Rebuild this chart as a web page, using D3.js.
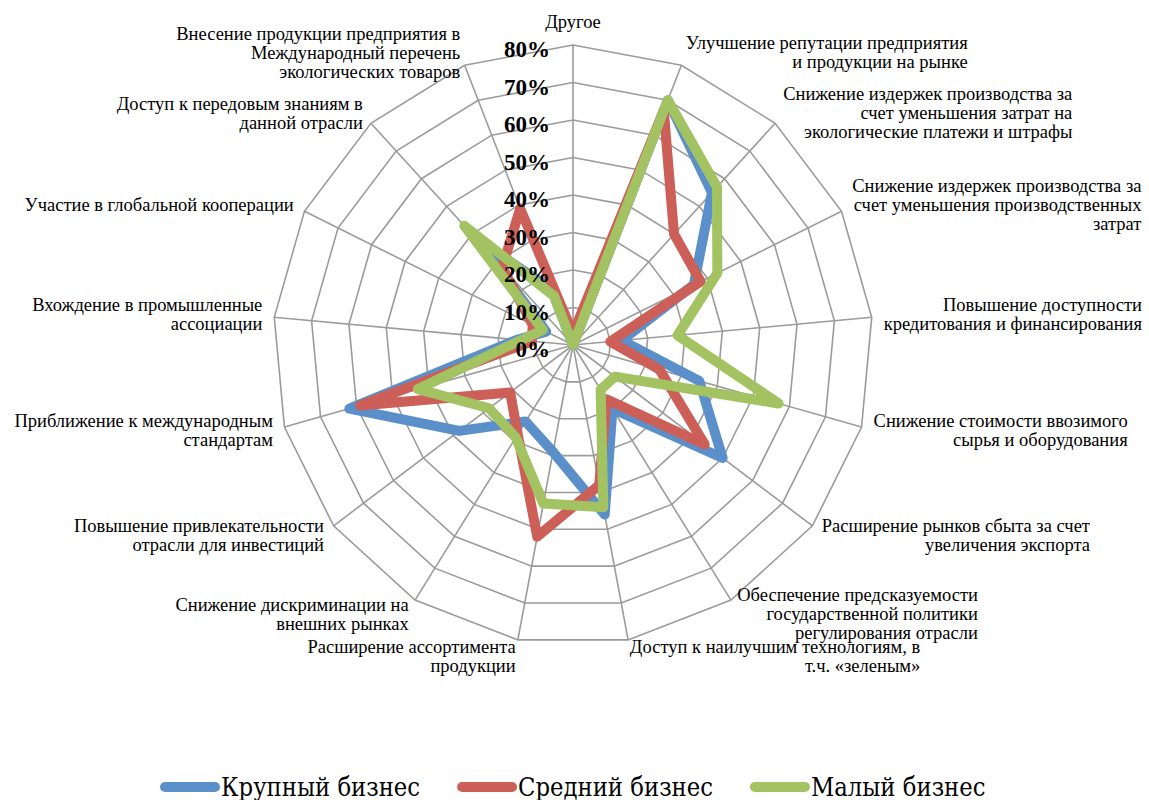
<!DOCTYPE html>
<html>
<head>
<meta charset="utf-8">
<script src="https://cdn.jsdelivr.net/npm/d3@7/dist/d3.min.js"></script>
<style>
  html, body { margin: 0; padding: 0; background: #ffffff; }
  svg { display: block; }
  .cat { font-family: "Liberation Serif", "Times New Roman", Times, serif; font-size: 18.5px; fill: #000; }
  .tick { font-family: "Liberation Serif", "Times New Roman", Times, serif; font-size: 23px; font-weight: bold; fill: #000; }
  .leg { font-family: "DejaVu Serif", "Liberation Serif", serif; font-stretch: condensed; font-size: 25.3px; fill: #000; }
</style>
</head>
<body>
<svg id="chart" width="1149" height="800"></svg>
<script>
// Radar axes, clockwise from the top; "\n" marks a line break in the label
const categories = [
  "Другое",
  "Улучшение репутации предприятия\nи продукции на рынке",
  "Снижение издержек производства за\nсчет уменьшения затрат на\nэкологические платежи и штрафы",
  "Снижение издержек производства за\nсчет уменьшения производственных\nзатрат",
  "Повышение доступности\nкредитования и финансирования",
  "Снижение стоимости ввозимого\nсырья и оборудования",
  "Расширение рынков сбыта за счет\nувеличения экспорта",
  "Обеспечение предсказуемости\nгосударственной политики\nрегулирования отрасли",
  "Доступ к наилучшим технологиям, в\nт.ч. «зеленым»",
  "Расширение ассортимента\nпродукции",
  "Снижение дискриминации на\nвнешних рынках",
  "Повышение привлекательности\nотрасли для инвестиций",
  "Приближение к международным\nстандартам",
  "Вхождение в промышленные\nассоциации",
  "Участие в глобальной кооперации",
  "Доступ к передовым знаниям в\nданной отрасли",
  "Внесение продукции предприятия в\nМеждународный перечень\nэкологических товаров"
];

// Share of respondents by business size (fractions)
const largeBusiness  = [0.00, 0.70, 0.55, 0.36, 0.13, 0.35, 0.50, 0.20, 0.46, 0.29, 0.24, 0.38, 0.62, 0.15, 0.08, 0.38, 0.16];
const mediumBusiness = [0.03, 0.67, 0.40, 0.38, 0.10, 0.24, 0.44, 0.17, 0.38, 0.52, 0.28, 0.21, 0.59, 0.11, 0.12, 0.28, 0.39];
const smallBusiness  = [0.00, 0.70, 0.57, 0.43, 0.28, 0.57, 0.14, 0.14, 0.44, 0.43, 0.29, 0.28, 0.43, 0.14, 0.09, 0.43, 0.14];

const seriesNames  = ["Крупный бизнес", "Средний бизнес", "Малый бизнес"];
const seriesColors = ["#5b8fca", "#cc5f58", "#a3c262"];

const tickValues = [0, 0.1, 0.2, 0.3, 0.4, 0.5, 0.6, 0.7, 0.8];

const svg = d3.select("#chart");
const cx = 573, cy = 345, R = 300;
const n = categories.length;
const step = 2 * Math.PI / n;

const r = d3.scaleLinear().domain([0, 0.8]).range([0, R]);
const angle = i => i * step;
const fmt = d3.format(".0%");

const plot = svg.append("g").attr("transform", `translate(${cx},${cy})`);

// Grid rings (polygons)
const ringLine = d3.lineRadial()
  .angle((d, i) => angle(i))
  .radius(d => r(d))
  .curve(d3.curveLinearClosed);

plot.append("g").selectAll("path")
  .data(tickValues.slice(1))
  .join("path")
  .attr("d", v => ringLine(d3.range(n).map(() => v)))
  .attr("fill", "none")
  .attr("stroke", "#9b9b9b")
  .attr("stroke-width", 1.6);

// Spokes
plot.append("g").selectAll("line")
  .data(d3.range(n))
  .join("line")
  .attr("x1", 0).attr("y1", 0)
  .attr("x2", i => r(0.8) * Math.sin(angle(i)))
  .attr("y2", i => -r(0.8) * Math.cos(angle(i)))
  .attr("stroke", "#9b9b9b")
  .attr("stroke-width", 1.6);

// Series polygons
const seriesLine = d3.lineRadial()
  .angle((d, i) => angle(i))
  .radius(d => r(d))
  .curve(d3.curveLinearClosed);

[largeBusiness, mediumBusiness, smallBusiness].forEach((vals, k) => {
  plot.append("path")
    .attr("d", seriesLine(vals))
    .attr("fill", "none")
    .attr("stroke", seriesColors[k])
    .attr("stroke-width", 10)
    .attr("stroke-linejoin", "round")
    .attr("stroke-linecap", "round");
});

// Category labels
const lh = 19;
const labels = svg.append("g");

categories.forEach((txt, i) => {
  const a = angle(i);
  const s = Math.sin(a), c = Math.cos(a);
  const ex = cx + R * s, ey = cy - R * c;
  const lines = txt.split("\n");
  const t = labels.append("text").attr("class", "cat");
  lines.forEach((ln, j) => {
    t.append("tspan").text(ln).attr("dy", j === 0 ? 0 : lh);
  });
  const widths = [];
  t.selectAll("tspan").each(function () { widths.push(this.getComputedTextLength()); });
  const W = d3.max(widths);
  const H = lines.length * lh;

  let xAnchor, anchor;
  if (s > 0.05) { xAnchor = ex + 12 * s + W; anchor = "end"; }
  else if (s < -0.05) { xAnchor = ex - 12 * Math.abs(s); anchor = "end"; }
  else { xAnchor = ex; anchor = "middle"; }

  let centerY;
  if (Math.abs(s) <= 0.05) centerY = ey - 22;
  else centerY = ey - c * 12 + (c < 0 ? -c * 6 : 0);

  const firstBase = centerY - H / 2 + lh * 0.75;
  t.attr("text-anchor", anchor).attr("y", firstBase);
  t.selectAll("tspan").attr("x", xAnchor);
});

// Radial tick labels
svg.append("g")
  .attr("text-anchor", "end")
  .selectAll("text")
  .data(tickValues)
  .join("text")
  .attr("class", "tick")
  .attr("x", cx - 23)
  .attr("y", v => cy - r(v) + 12)
  .text(v => fmt(v));

// Legend
const legend = svg.append("g");
const ly = 787;
let lx = 160;
seriesNames.forEach((name, k) => {
  legend.append("line")
    .attr("x1", lx + 5).attr("x2", lx + 55)
    .attr("y1", ly).attr("y2", ly)
    .attr("stroke", seriesColors[k])
    .attr("stroke-width", 10)
    .attr("stroke-linecap", "round");
  const t = legend.append("text")
    .attr("class", "leg")
    .attr("x", lx + 61)
    .attr("y", ly + 9)
    .text(name);
  lx += 61 + t.node().getComputedTextLength() + 37;
});
</script>
</body>
</html>
